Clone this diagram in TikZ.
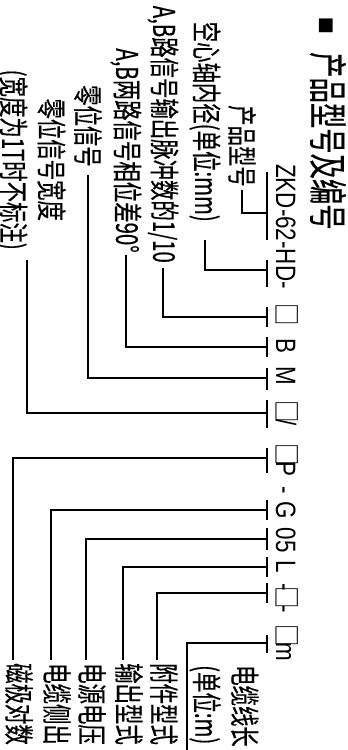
\documentclass[tikz,border=0pt]{standalone}
\usepackage{fontspec}
\newfontfamily\cjk[FakeStretch=0.68,FakeBold=0.4]{Noto Sans CJK SC}
\newfontfamily\cjktitle[FakeStretch=0.65,FakeBold=0.4]{Noto Sans CJK SC}
\newfontfamily\cjkbox[FakeStretch=0.8]{Noto Sans CJK SC}
\newfontfamily\codefont[FakeStretch=0.8]{Liberation Sans}
\newfontfamily\symfont{DejaVu Sans}
\newcommand\bx{\raisebox{0pt}{\cjkbox\fontsize{28}{28}\selectfont □}}
\tikzset{
  lbl/.style={rotate=-90, inner sep=0pt, font=\cjk\fontsize{30}{38}\selectfont},
  titlestyle/.style={rotate=-90, inner sep=0pt, font=\cjktitle\fontsize{39}{39}\selectfont},
  codeseg/.style={rotate=-90, inner sep=0pt, anchor=base, font=\codefont\fontsize{28}{28}\selectfont},
  conn/.style={line width=2.2pt},
  tickmark/.style={line width=2.2pt},
}
\begin{document}
\begin{tikzpicture}[x=1pt,y=-1pt]
\useasboundingbox (0,0) rectangle (348,750);
% title
\node[font=\symfont\fontsize{18}{18}\selectfont, inner sep=0pt] (sq) at (326,26) {■};
\node[titlestyle, anchor=west] (title) at (328,52) {产品型号及编号};
% code segments
\node[codeseg] (s1) at (276,226.5) {ZKD-62-HD-};
\node[codeseg] (s2) at (276,315) {\bx};
\node[codeseg] (s3) at (276,346) {B};
\node[codeseg] (s4) at (276,376) {M};
\node[codeseg] (s5) at (276,413) {\bx\hspace{-4pt}/};
\node[codeseg] (s6) at (276,460) {\bx\hspace{-4pt}P};
\node[codeseg] (s7) at (276,490) {-};
\node[codeseg] (s8) at (276,510) {G};
\node[codeseg] (s9) at (276,540) {05};
\node[codeseg] (s10) at (276,567) {L};
\node[codeseg] (s11) at (276,598) {-\hspace{-4pt}\bx\hspace{-4pt}-};
\node[codeseg] (s12) at (276,643) {\bx\hspace{-4pt}m};
% ticks
\draw[tickmark] (267,172) -- (267,240);
\draw[tickmark] (267,260) -- (267,287);
\draw[tickmark] (267,307) -- (267,327);
\draw[tickmark] (267,337) -- (267,357);
\draw[tickmark] (267,368) -- (267,390);
\draw[tickmark] (267,400) -- (267,428);
\draw[tickmark] (267,448) -- (267,473);
\draw[tickmark] (267,500) -- (267,520);
\draw[tickmark] (267,528) -- (267,550);
\draw[tickmark] (267,557) -- (267,577);
\draw[tickmark] (267,583) -- (267,603);
\draw[tickmark] (267,635) -- (267,653);
\coordinate (p1) at (267,213);
\coordinate (p2) at (267,270);
\coordinate (p3) at (267,317);
\coordinate (p4) at (267,347);
\coordinate (p5) at (267,378);
\coordinate (p6) at (267,413);
\coordinate (p7) at (267,458);
\coordinate (p8) at (267,510);
\coordinate (p9) at (267,539);
\coordinate (p10) at (267,567);
\coordinate (p11) at (267,593);
\coordinate (p12) at (267,643);
% top labels
\node[lbl, anchor=east] (l1) at (242,187) {产品型号};
\node[lbl, anchor=east] (l2) at (205,222) {空心轴内径(单位:mm)};
\node[lbl, anchor=east] (l3) at (163,263) {A,B路信号输出脉冲数的1/10};
\node[lbl, anchor=east] (l4) at (126,253) {A,B两路信号相位差90°};
\node[lbl, anchor=east] (l5) at (88,167) {零位信号};
\node[lbl, anchor=east, align=center] (l6) at (31,250) {零位信号宽度\\(宽度为1T时不标注)};
\draw[conn] ([yshift=-3pt]l1.east) |- (p1);
\draw[conn] ([yshift=-18pt]l2.east) |- (p2);
\draw[conn] ([yshift=-5pt]l3.east) |- (p3);
\draw[conn] ([yshift=-2pt]l4.east) |- (p4);
\draw[conn] ([yshift=-8pt]l5.east) |- (p5);
\draw[conn] ([xshift=-4pt,yshift=-10pt]l6.east) |- (p6);
% bottom labels
\node[lbl, anchor=west] (l7) at (19,663) {磁极对数};
\node[lbl, anchor=west] (l8) at (57,663) {电缆侧出};
\node[lbl, anchor=west] (l9) at (92,663) {电源电压};
\node[lbl, anchor=west] (l10) at (129,663) {输出型式};
\node[lbl, anchor=west] (l11) at (164,663) {附件型式};
\node[lbl, anchor=west, align=left] (l12) at (224,665) {电缆线长\\(单位:m)};
\coordinate (c12) at (187,750);
\draw[conn] (p7) -| ([xshift=-6pt,yshift=3pt]l7.west);
\draw[conn] (p8) -| ([xshift=-6pt,yshift=3pt]l8.west);
\draw[conn] (p9) -| ([xshift=-6pt,yshift=3pt]l9.west);
\draw[conn] (p10) -| ([xshift=-6pt,yshift=3pt]l10.west);
\draw[conn] (p11) -| ([xshift=-7pt,yshift=3pt]l11.west);
\draw[conn] (p12) -| (c12);
\end{tikzpicture}
\end{document}
